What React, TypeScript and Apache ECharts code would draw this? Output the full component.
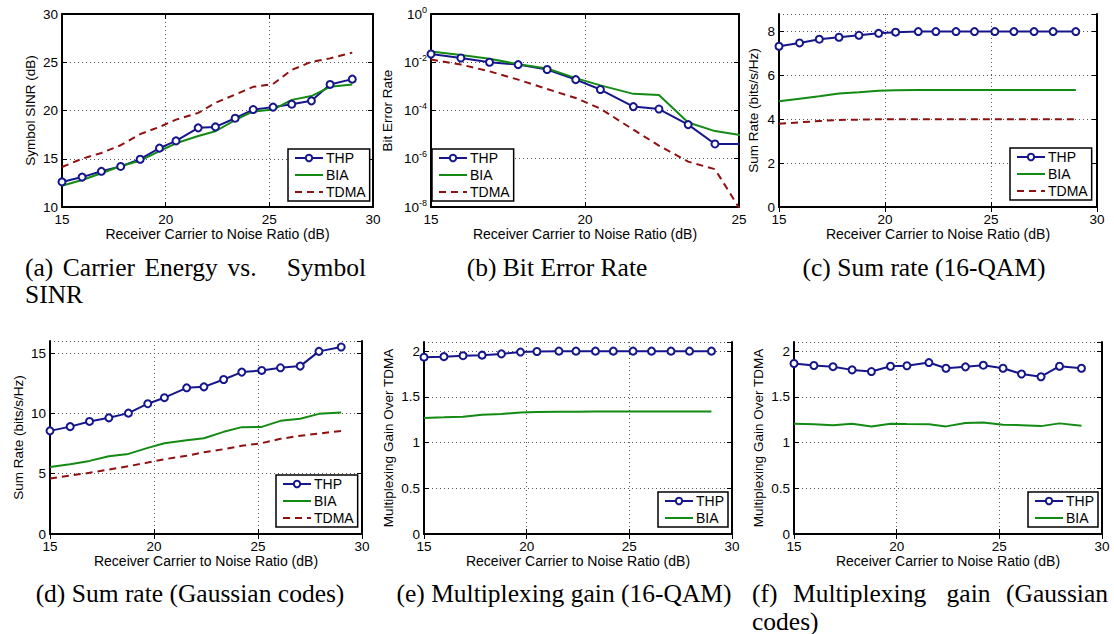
import React, { useEffect, useRef } from "react";
import * as echarts from "echarts";

// ---------------- data ----------------
const cnr = [15, 15.97, 16.9, 17.83, 18.77, 19.7, 20.5, 21.57, 22.4, 23.35, 24.22, 25.18, 26.08, 27.03, 27.93, 29];

const sinrTHP = [12.6, 13.1, 13.7, 14.2, 14.95, 16.1, 16.85, 18.2, 18.3, 19.2, 20.1, 20.35, 20.65, 21.0, 22.7, 23.25];
const sinrBIA = [12.2, 12.8, 13.5, 14.25, 14.8, 15.8, 16.6, 17.35, 17.85, 19.0, 19.9, 20.1, 21.1, 21.5, 22.45, 22.7];
const sinrTDMA = [14.15, 15.0, 15.6, 16.4, 17.55, 18.3, 19.05, 19.75, 20.8, 21.65, 22.45, 22.75, 24.2, 25.05, 25.4, 26.0];

const berTHP = [2.2e-2, 1.5e-2, 1.0e-2, 8e-3, 5e-3, 1.9e-3, 7.4e-4, 1.45e-4, 1.15e-4, 2.6e-5, 4.1e-6, 4.1e-6];
const berBIA = [2.8e-2, 2.0e-2, 1.4e-2, 8.3e-3, 5.5e-3, 2.2e-3, 1.1e-3, 4.9e-4, 4.4e-4, 3.2e-5, 1.4e-5, 9e-6];
const berTDMA = [1.3e-2, 8e-3, 4.2e-3, 1.9e-3, 7.8e-4, 3.3e-4, 1.2e-4, 1.6e-5, 3.5e-6, 7.6e-7, 3.7e-7, 4e-9];

const qamRateTHP = [7.33, 7.48, 7.65, 7.74, 7.83, 7.92, 7.97, 8.0, 8.0, 8.0, 8.0, 8.0, 8.0, 8.0, 8.0, 8.0];
const qamRateBIA = [4.82, 4.94, 5.05, 5.17, 5.23, 5.3, 5.32, 5.33, 5.33, 5.33, 5.33, 5.33, 5.33, 5.33, 5.33, 5.33];
const qamRateTDMA = [3.8, 3.86, 3.92, 3.97, 3.98, 4.0, 4.0, 4.0, 4.0, 4.0, 4.0, 4.0, 4.0, 4.0, 4.0, 4.0];

const gaussRateTHP = [8.55, 8.9, 9.33, 9.63, 10.02, 10.8, 11.3, 12.12, 12.2, 12.81, 13.42, 13.56, 13.78, 13.92, 15.14, 15.5];
const gaussRateBIA = [5.56, 5.78, 6.06, 6.45, 6.64, 7.14, 7.53, 7.78, 7.94, 8.47, 8.86, 8.88, 9.38, 9.55, 9.96, 10.07];
const gaussRateTDMA = [4.6, 4.84, 5.07, 5.34, 5.62, 5.92, 6.2, 6.48, 6.78, 7.03, 7.31, 7.53, 7.89, 8.14, 8.33, 8.55];

const qamGainTHP = [1.934, 1.94, 1.95, 1.956, 1.97, 1.99, 1.996, 2.0, 2.0, 2.0, 2.0, 2.0, 2.0, 2.0, 2.0, 2.0];
const qamGainBIA = [1.27, 1.276, 1.283, 1.305, 1.313, 1.33, 1.335, 1.338, 1.338, 1.34, 1.34, 1.34, 1.34, 1.34, 1.34, 1.34];

const gaussGainTHP = [1.865, 1.843, 1.83, 1.795, 1.777, 1.835, 1.84, 1.875, 1.813, 1.828, 1.846, 1.813, 1.75, 1.72, 1.835, 1.813];
const gaussGainBIA = [1.207, 1.2, 1.19, 1.207, 1.177, 1.207, 1.203, 1.2, 1.177, 1.214, 1.22, 1.196, 1.19, 1.18, 1.21, 1.185];

const xName = "Receiver Carrier to Noise Ratio (dB)";
const yNames = [
  "Symbol SINR (dB)",
  "Bit Error Rate",
  "Sum Rate (bits/s/Hz)",
  "Sum Rate (bits/s/Hz)",
  "Multiplexing Gain Over TDMA",
  "Multiplexing Gain Over TDMA",
];

// ---------------- styling ----------------
const NAVY = "#16168c";
const GREEN = "#138a13";
const RED = "#8e1010";
const SANS = '"Liberation Sans", Arial, Helvetica, sans-serif';
const SERIF = '"Liberation Serif", "Times New Roman", serif';
const TICK_FS = 13.5;
const CAP_FS = 25.5;

type Panel = {
  grid: { left: number; top: number; width: number; height: number };
  x: { min: number; max: number; interval: number };
  y: { type: "value" | "log"; min: number; max: number; interval: number };
  yGap: number;
  legend: { left: number; top: number };
  series: { name: string; data: number[] }[];
};

const panels: Panel[] = [
  {
    grid: { left: 62, top: 14, width: 311, height: 193 },
    x: { min: 15, max: 30, interval: 5 },
    y: { type: "value", min: 10, max: 30, interval: 5 },
    yGap: 25,
    legend: { left: 288, top: 149 },
    series: [
      { name: "THP", data: sinrTHP },
      { name: "BIA", data: sinrBIA },
      { name: "TDMA", data: sinrTDMA },
    ],
  },
  {
    grid: { left: 431, top: 14, width: 308, height: 193 },
    x: { min: 15, max: 25, interval: 5 },
    y: { type: "log", min: 1e-8, max: 1, interval: 2 },
    yGap: 37,
    legend: { left: 432, top: 149 },
    series: [
      { name: "THP", data: berTHP },
      { name: "BIA", data: berBIA },
      { name: "TDMA", data: berTDMA },
    ],
  },
  {
    grid: { left: 779, top: 14, width: 318, height: 193 },
    x: { min: 15, max: 30, interval: 5 },
    y: { type: "value", min: 0, max: 8.8, interval: 2 },
    yGap: 19,
    legend: { left: 1010, top: 148 },
    series: [
      { name: "THP", data: qamRateTHP },
      { name: "BIA", data: qamRateBIA },
      { name: "TDMA", data: qamRateTDMA },
    ],
  },
  {
    grid: { left: 50, top: 341, width: 312, height: 193 },
    x: { min: 15, max: 30, interval: 5 },
    y: { type: "value", min: 0, max: 16, interval: 5 },
    yGap: 25,
    legend: { left: 276, top: 475 },
    series: [
      { name: "THP", data: gaussRateTHP },
      { name: "BIA", data: gaussRateBIA },
      { name: "TDMA", data: gaussRateTDMA },
    ],
  },
  {
    grid: { left: 424, top: 342, width: 308, height: 192 },
    x: { min: 15, max: 30, interval: 5 },
    y: { type: "value", min: 0, max: 2.1, interval: 0.5 },
    yGap: 29,
    legend: { left: 658, top: 492 },
    series: [
      { name: "THP", data: qamGainTHP },
      { name: "BIA", data: qamGainBIA },
    ],
  },
  {
    grid: { left: 794, top: 342, width: 308, height: 192 },
    x: { min: 15, max: 30, interval: 5 },
    y: { type: "value", min: 0, max: 2.1, interval: 0.5 },
    yGap: 29,
    legend: { left: 1028, top: 492 },
    series: [
      { name: "THP", data: gaussGainTHP },
      { name: "BIA", data: gaussGainBIA },
    ],
  },
];

const seriesStyle: Record<string, { color: string; dash: any; symbol: string }> = {
  THP: { color: NAVY, dash: "solid", symbol: "emptyCircle" },
  BIA: { color: GREEN, dash: "solid", symbol: "none" },
  TDMA: { color: RED, dash: [7, 5], symbol: "none" },
};

const frameLine = { show: true, lineStyle: { color: "#000", width: 2 } };
const innerTick = { show: true, inside: true, length: 5, lineStyle: { color: "#000", width: 1 } };
const gridLine = { show: true, lineStyle: { color: "#555", width: 1, type: [1, 3] as any } };

function buildOption() {
  const grids: any[] = [];
  const xAxes: any[] = [];
  const yAxes: any[] = [];
  const series: any[] = [];
  const legends: any[] = [];

  panels.forEach((p, gi) => {
    grids.push({ ...p.grid, containLabel: false });
    const xBase = {
      type: "value",
      gridIndex: gi,
      min: p.x.min,
      max: p.x.max,
      interval: p.x.interval,
      axisLine: frameLine,
      axisTick: innerTick,
    };
    xAxes.push({
      ...xBase,
      position: "bottom",
      name: xName,
      nameLocation: "middle",
      nameGap: 20,
      nameTextStyle: { fontFamily: SANS, fontSize: 14, color: "#000" },
      axisLabel: { color: "#000", fontFamily: SANS, fontSize: TICK_FS, lineHeight: 12, margin: 6 },
      splitLine: gridLine,
    });
    xAxes.push({ ...xBase, position: "top", axisLabel: { show: false }, splitLine: { show: false } });

    const yBase: any = {
      type: p.y.type,
      gridIndex: gi,
      min: p.y.min,
      max: p.y.max,
      interval: p.y.interval,
      axisLine: frameLine,
      axisTick: innerTick,
    };
    if (p.y.type === "log") yBase.logBase = 10;
    const yLabel: any = {
      color: "#000",
      fontFamily: SANS,
      fontSize: TICK_FS,
      lineHeight: 11,
      margin: 4,
      showMaxLabel: p.y.type === "log" || p.y.max % p.y.interval === 0,
    };
    if (p.y.type === "log") {
      yLabel.formatter = (v: number) => `{b|10}{s|${Math.round(Math.log10(v))}}`;
      yLabel.rich = {
        b: { fontFamily: SANS, fontSize: TICK_FS, color: "#000", lineHeight: 12 },
        s: { fontFamily: SANS, fontSize: 9, color: "#000", padding: [0, 0, 9, 0] },
      };
    }
    yAxes.push({
      ...yBase,
      position: "left",
      name: yNames[gi],
      nameLocation: "middle",
      nameRotate: 90,
      nameGap: p.yGap,
      nameTextStyle: { fontFamily: SANS, fontSize: 13.5, color: "#000" },
      axisLabel: yLabel,
      splitLine: gridLine,
    });
    yAxes.push({ ...yBase, position: "right", axisLabel: { show: false }, splitLine: { show: false } });

    p.series.forEach((s) => {
      const st = seriesStyle[s.name];
      series.push({
        type: "line",
        name: s.name,
        xAxisIndex: gi * 2,
        yAxisIndex: gi * 2,
        data: s.data.map((v, i) => [cnr[i], v]),
        symbol: st.symbol,
        symbolSize: 7,
        showSymbol: st.symbol !== "none",
        lineStyle: { color: st.color, width: 2, type: st.dash },
        itemStyle: { color: st.color, borderColor: st.color, borderWidth: 1.5 },
        clip: true,
        silent: true,
      });
    });

    legends.push({
      data: p.series.map((s) =>
        seriesStyle[s.name].symbol === "none"
          ? { name: s.name, itemStyle: { opacity: 0, color: "rgba(0,0,0,0)", borderWidth: 0 } }
          : { name: s.name }
      ),
      left: p.legend.left,
      top: p.legend.top,
      orient: "vertical",
      backgroundColor: "#fff",
      borderColor: "#000",
      borderWidth: 1.5,
      borderRadius: 0,
      padding: [2, 4, 2, 6],
      itemGap: 3,
      itemWidth: 28,
      itemHeight: 8,
      selectedMode: false,
      textStyle: { fontFamily: SANS, fontSize: 14, color: "#000", padding: [0, 0, 0, -2] },
    });
  });

  const cap = (text: string, x: number, y: number, align = "center") => ({
    type: "text",
    x,
    y,
    silent: true,
    style: {
      text,
      fill: "#000",
      font: `${CAP_FS}px ${SERIF}`,
      lineHeight: 23,
      textAlign: align,
      textVerticalAlign: "middle",
      align,
      verticalAlign: "middle",
    },
  });

  const graphic = [
    cap("(a)", 25, 267, "left"),
    cap("Carrier", 62.8, 267, "left"),
    cap("Energy", 144.5, 267, "left"),
    cap("vs.", 227.6, 267, "left"),
    cap("Symbol", 366, 267, "right"),
    cap("SINR", 25, 294, "left"),
    cap("(b) Bit Error Rate", 557, 267),
    cap("(c) Sum rate (16-QAM)", 924, 267),
    cap("(d) Sum rate (Gaussian codes)", 190, 593),
    cap("(e) Multiplexing gain (16-QAM)", 564, 593),
    cap("(f)", 752, 593, "left"),
    cap("Multiplexing", 793, 593, "left"),
    cap("gain", 946.6, 593, "left"),
    cap("(Gaussian", 1108, 593, "right"),
    cap("codes)", 752, 621, "left"),
  ];

  return {
    animation: false,
    backgroundColor: "#fff",
    grid: grids,
    xAxis: xAxes,
    yAxis: yAxes,
    legend: legends,
    series,
    graphic,
  };
}

export default function App() {
  const ref = useRef<HTMLDivElement>(null);
  useEffect(() => {
    document.body.style.margin = "0";
    if (!ref.current) return;
    const chart = echarts.init(ref.current, undefined, { renderer: "svg" });
    chart.setOption(buildOption() as any);
    return () => chart.dispose();
  }, []);
  return <div ref={ref} style={{ width: 1114, height: 634 }} />;
}
